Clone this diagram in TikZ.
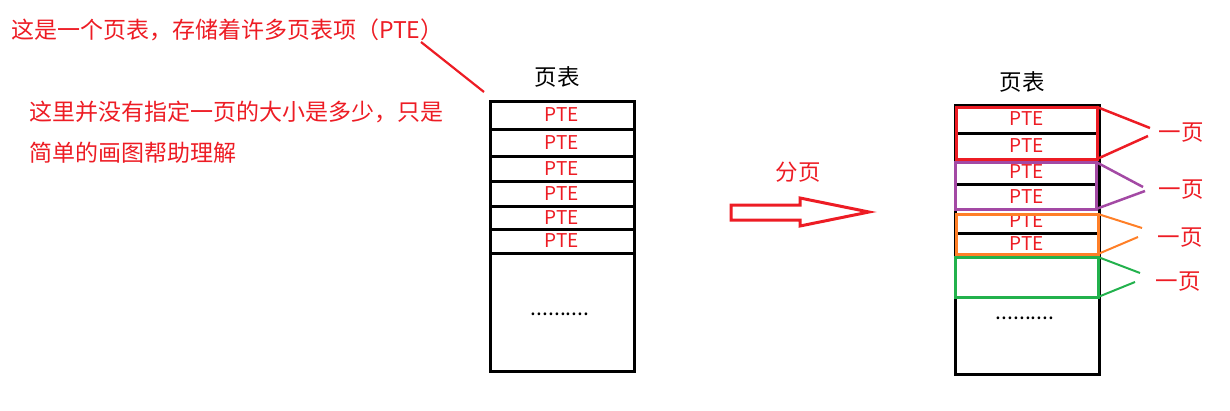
\documentclass[tikz,border=0pt]{standalone}
\usepackage{fontspec}
\setmainfont{Noto Sans CJK SC}
\usepackage{xcolor}
\usepackage{tikz}
\usetikzlibrary{positioning,calc}
\definecolor{pred}{RGB}{237,28,36}
\definecolor{ppurple}{RGB}{163,73,164}
\definecolor{porange}{RGB}{255,127,39}
\definecolor{pgreen}{RGB}{34,177,76}
\tikzstyle{cell}= [rectangle, draw, line width=3pt, inner sep=0pt, outer sep=0pt, minimum width=144pt, text=pred, font=\fontsize{19}{22}\selectfont]
\tikzstyle{pg}= [rectangle, draw, line width=3pt, inner sep=0pt, outer sep=0pt]
\tikzstyle{note}= [text=pred, inner sep=0pt, font=\fontsize{23}{41}\selectfont]
\tikzstyle{ttl}= [inner sep=0pt, font=\fontsize{22.5}{24}\selectfont]
\tikzstyle{dots}= [inner sep=0pt, font=\fontsize{21}{24}\selectfont]

\begin{document}
\begin{tikzpicture}[x=1pt, y=-1pt]
				\useasboundingbox (0,0) rectangle (1230,410);
				
				% notes
				\node[note, anchor=west] (note1) at (11, 30) {这是一个页表，存储着许多页表项（PTE）};
				\node[note, anchor=west, align=left] (note2) at (29, 132) {这里并没有指定一页的大小是多少，只是\\简单的画图帮助理解};
				\coordinate (ptr) at (484, 92);
				\draw[pred, line width=2.2pt](421, 42) -- (ptr);
				
				% left page table
				\node[ttl] (ltitle) at (557, 77) {页表};
				\node[cell, minimum height=28pt] (l1) at (562, 115) {PTE};
				\node[cell, minimum height=27pt] (l2) at (562, 142.5) {PTE};
				\node[cell, minimum height=25pt] (l3) at (562, 168.5) {PTE};
				\node[cell, minimum height=25pt] (l4) at (562, 193.5) {PTE};
				\node[cell, minimum height=23pt] (l5) at (562, 217.5) {PTE};
				\node[cell, minimum height=24pt] (l6) at (562, 241) {PTE};
				\node[cell, minimum height=118pt, text=black] (lrest) at (562, 312) {};
				\node[dots] (ldots) at (560, 314) {..........};
				
				% arrow
				\node[note, font=\fontsize{22.5}{24}\selectfont] (split) at (798, 172) {分页};
				\draw[pred, line width=3pt, line join=miter] (731, 205) -- (800, 205) -- (800, 198) -- (869, 212) -- (800, 226) -- (800, 220) -- (731, 220) -- cycle;
				
				% right page table
				\node[ttl] (rtitle) at (1022, 82) {页表};
				\node[cell, minimum height=28pt] (r1) at (1027, 119) {PTE};
				\node[cell, minimum height=26pt] (r2) at (1027, 146) {PTE};
				\node[cell, minimum height=25pt] (r3) at (1027, 171.5) {PTE};
				\node[cell, minimum height=25pt] (r4) at (1027, 196.5) {PTE};
				\node[cell, minimum height=24pt] (r5) at (1027, 221) {PTE};
				\node[cell, minimum height=21pt] (r6) at (1027, 243.5) {PTE};
				\node[cell, minimum height=120pt] (rrest) at (1027, 314) {};
				\node[dots] (rdots) at (1025, 318) {..........};
				
				% pages
				\node[pg, pred, minimum width=141pt, minimum height=52pt] (p1) at (1026.5, 133) {};
				\node[pg, ppurple, minimum width=141pt, minimum height=47pt] (p2) at (1025.5, 185.5) {};
				\node[pg, porange, minimum width=142pt, minimum height=40pt] (p3) at (1027, 234) {};
				\node[pg, pgreen, minimum width=143pt, minimum height=40pt] (p4) at (1026.5, 277) {};
				
				\coordinate (a1) at (1150, 128);
				\coordinate (b1) at (1148, 136);
				\coordinate (a2) at (1143, 187);
				\coordinate (b2) at (1145, 191);
				\coordinate (a3) at (1142, 228);
				\coordinate (b3) at (1138, 237);
				\coordinate (a4) at (1140, 273);
				\coordinate (b4) at (1135, 282);
				\draw[pred, line width=2.5pt](p1.north east) -- (a1);
				\draw[pred, line width=2.5pt](p1.south east) -- (b1);
				\draw[ppurple, line width=2.5pt](p2.north east) -- (a2);
				\draw[ppurple, line width=2.5pt](p2.south east) -- (b2);
				\draw[porange, line width=2pt](p3.north east) -- (a3);
				\draw[porange, line width=2pt](p3.south east) -- (b3);
				\draw[pgreen, line width=2pt](p4.north east) -- (a4);
				\draw[pgreen, line width=2pt](p4.south east) -- (b4);
				
				\node[note, font=\fontsize{22.5}{24}\selectfont] (g1) at (1181, 133) {一页};
				\node[note, font=\fontsize{22.5}{24}\selectfont] (g2) at (1181, 190) {一页};
				\node[note, font=\fontsize{22.5}{24}\selectfont] (g3) at (1180, 238) {一页};
				\node[note, font=\fontsize{22.5}{24}\selectfont] (g4) at (1178, 282) {一页};
			\end{tikzpicture}
\end{document}
